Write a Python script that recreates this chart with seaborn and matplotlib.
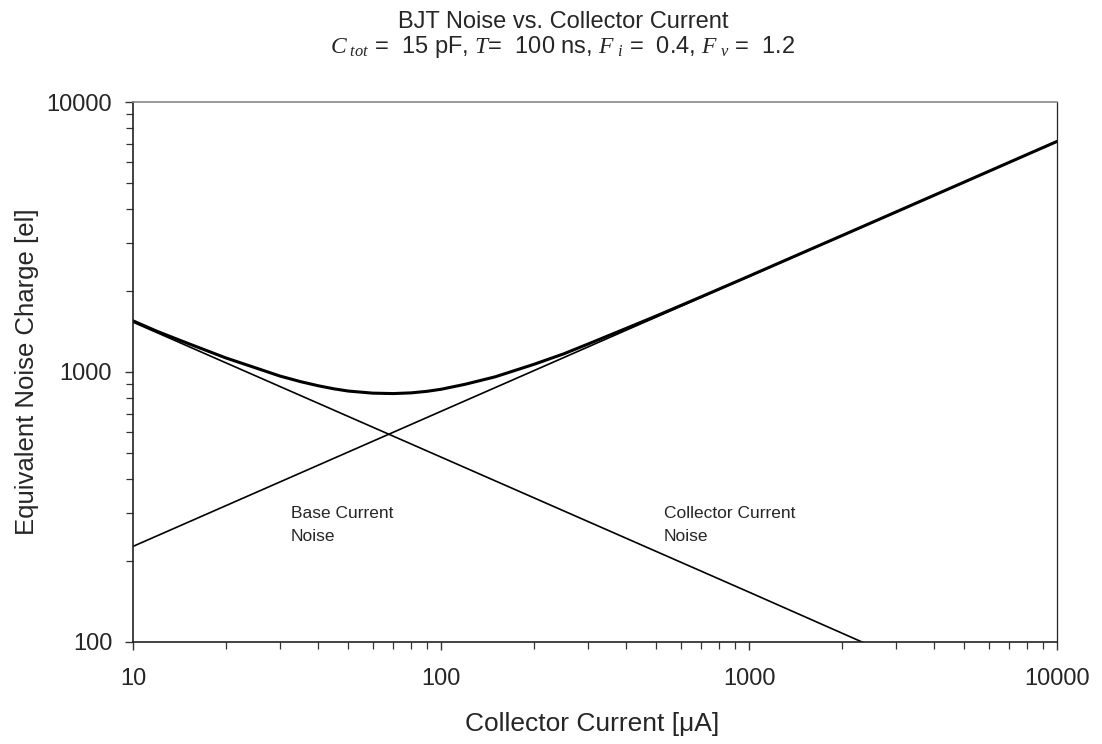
import matplotlib
matplotlib.use("Agg")
import matplotlib.pyplot as plt
import seaborn as sns
import pandas as pd
from matplotlib.ticker import LogLocator, FixedLocator, NullFormatter

# Values
base_x = [10, 100, 1000, 10000]
base_enc = [226, 715, 2260, 7140]

coll_x = [10, 100, 1000, 10000]
coll_enc = [1530, 484, 153, 48]

total_x = [10, 12, 15, 20, 25, 30, 35, 40, 45, 50, 60, 70, 80, 90, 100, 120, 150, 200,
           250, 300, 400, 500, 700, 1000, 1500, 2000, 3000, 5000, 7000, 10000]
total_enc = [1547, 1413, 1279, 1128, 1036, 966, 921, 889, 866, 850, 835, 832, 837, 848, 863,
             901, 960, 1067, 1167, 1269, 1452, 1613, 1900, 2265, 2772, 3198, 3915, 5053, 5980, 7146]

x_ticks = [10, 100, 1000, 10000]
y_ticks = [100, 1000, 10000]

title_line1 = "BJT Noise vs. Collector Current"
title_line2 = r"$C_{\ tot}$ =  15 pF, $T$=  100 ns, $F_{\ i}$ =  0.4, $F_{\ v}$ =  1.2"

sns.set_style("ticks")
plt.rcParams['font.family'] = ['Liberation Sans', 'DejaVu Sans']
plt.rcParams['mathtext.fontset'] = 'custom'
plt.rcParams['mathtext.it'] = 'Liberation Serif:italic'
plt.rcParams['mathtext.rm'] = 'Liberation Serif'

fig = plt.figure(figsize=(11.02, 7.44), dpi=100)
ax = fig.add_axes([0.1207, 0.1371, 0.9592 - 0.1207, 0.8629 - 0.1371])

df_b = pd.DataFrame({"x": base_x, "y": base_enc})
df_c = pd.DataFrame({"x": coll_x, "y": coll_enc})
df_t = pd.DataFrame({"x": total_x, "y": total_enc})

sns.lineplot(data=df_b, x="x", y="y", ax=ax, color="black", linewidth=1.2, sort=False)
sns.lineplot(data=df_c, x="x", y="y", ax=ax, color="black", linewidth=1.2, sort=False)
sns.lineplot(data=df_t, x="x", y="y", ax=ax, color="black", linewidth=2.2, sort=False)

ax.set_xscale("log")
ax.set_yscale("log")
ax.set_xlim(10, 10000)
ax.set_ylim(100, 10000)

ax.xaxis.set_major_locator(FixedLocator(x_ticks))
ax.yaxis.set_major_locator(FixedLocator(y_ticks))
ax.set_xticklabels([str(v) for v in x_ticks])
ax.set_yticklabels([str(v) for v in y_ticks])
ax.xaxis.set_minor_locator(LogLocator(base=10, subs=range(2, 10)))
ax.yaxis.set_minor_locator(LogLocator(base=10, subs=range(2, 10)))
ax.xaxis.set_minor_formatter(NullFormatter())
ax.yaxis.set_minor_formatter(NullFormatter())

ax.tick_params(axis="both", which="major", direction="out", length=6, width=1.0,
               color="#333333", labelsize=17)
ax.tick_params(axis="both", which="minor", direction="out", length=5, width=0.9,
               color="#333333")
ax.tick_params(axis="x", which="major", pad=13)
ax.tick_params(axis="y", which="major", pad=9)

for side in ["left", "bottom"]:
    ax.spines[side].set_color("#222222")
    ax.spines[side].set_linewidth(1.2)
ax.spines["top"].set_visible(True)
ax.spines["right"].set_visible(True)
ax.spines["top"].set_color("#888888")
ax.spines["top"].set_linewidth(1.2)
ax.spines["right"].set_color("#222222")
ax.spines["right"].set_linewidth(0.9)

ax.set_xlabel("Collector Current [\u03bcA]", fontsize=19)
ax.set_ylabel("Equivalent Noise Charge [el]", fontsize=18.5)
ax.xaxis.set_label_coords(0.497, -0.152)
ax.yaxis.set_label_coords(-0.1147, 0.5)
ax.xaxis.label.set_va("center")
ax.yaxis.label.set_va("center")

fig.text(0.511, 0.971, title_line1, ha="center", va="center", fontsize=17)
fig.text(0.511, 0.937, title_line2, ha="center", va="center", fontsize=17)

ax.text(32.6, 318, "Base Current\nNoise", fontsize=12.5, ha="left", va="top", linespacing=1.65)
ax.text(530, 318, "Collector Current\nNoise", fontsize=12.5, ha="left", va="top", linespacing=1.65)

ax.set_facecolor("white")
fig.patch.set_facecolor("white")
fig.savefig("out.png", dpi=100, facecolor="white")
